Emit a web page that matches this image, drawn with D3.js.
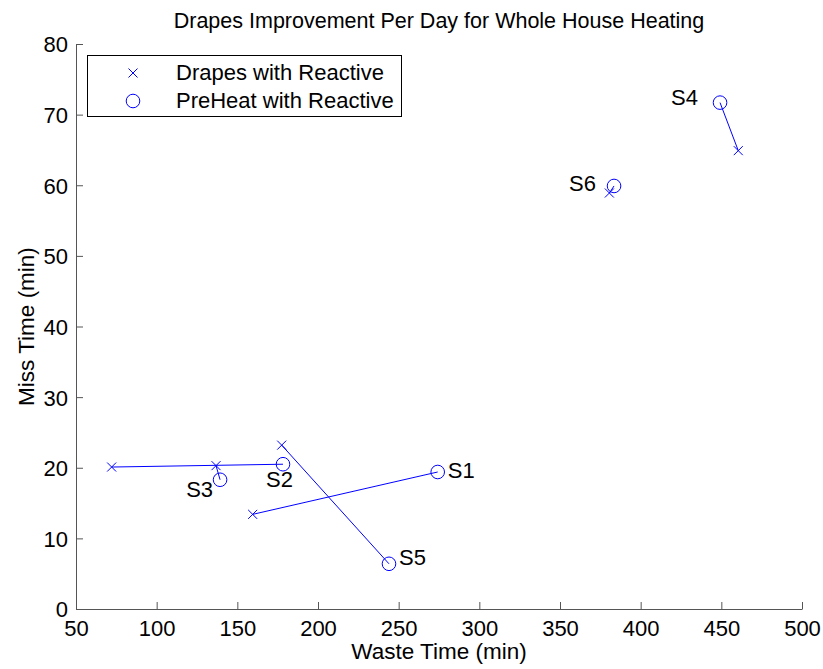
<!DOCTYPE html>
<html>
<head>
<meta charset="utf-8">
<script src="https://cdn.jsdelivr.net/npm/d3@7"></script>
<style>
  body { margin: 0; background: #fff; }
  svg { font-family: "Liberation Sans", Arial, sans-serif; }
</style>
</head>
<body>
<svg id="chart" width="823" height="669"></svg>
<script>
// Scenarios and the two strategies per scenario: waste time and miss time (minutes)
const scenarios = ["S1", "S2", "S3", "S4", "S5", "S6"];
const drapesWaste  = [159.5, 72.1, 136.8, 460.5, 177.5, 380.6];
const drapesMiss   = [13.4, 20.1, 20.3, 64.9, 23.2, 58.9];
const preheatWaste = [274.2, 178.3, 139.3, 449.2, 244.0, 383.5];
const preheatMiss  = [19.4, 20.5, 18.3, 71.7, 6.4, 59.9];

const xTicks = [50, 100, 150, 200, 250, 300, 350, 400, 450, 500];
const yTicks = [0, 10, 20, 30, 40, 50, 60, 70, 80];
const legendLabels = ["Drapes with Reactive", "PreHeat with Reactive"];

const color = "#0000ff";
const axisColor = "#555";
const fontSize = 22;
const svg = d3.select("#chart");
const m = { left: 76, right: 802, top: 44, bottom: 609 };

const x = d3.scaleLinear().domain([50, 500]).range([m.left, m.right]);
const y = d3.scaleLinear().domain([0, 80]).range([m.bottom, m.top]);

// Axes with inward ticks
const xAxis = d3.axisBottom(x).tickValues(xTicks).tickSizeInner(-7).tickSizeOuter(0);
const yAxis = d3.axisLeft(y).tickValues(yTicks).tickSizeInner(-7).tickSizeOuter(0);

const gx = svg.append("g").attr("transform", `translate(0,${m.bottom})`).call(xAxis);
const gy = svg.append("g").attr("transform", `translate(${m.left},0)`).call(yAxis);
[gx, gy].forEach(g => {
  g.attr("font-family", null).attr("font-size", null);
  g.selectAll("path, line").attr("stroke", axisColor);
  g.selectAll("text").attr("fill", "#000").style("font-size", fontSize + "px");
});
gx.selectAll("text").attr("y", 27).attr("dy", 0);
gy.selectAll("text").attr("x", -8).attr("dy", "0.36em");

// Title and axis labels
svg.append("text").attr("x", 439).attr("y", 28).attr("text-anchor", "middle")
  .style("font-size", "21.5px").text("Drapes Improvement Per Day for Whole House Heating");
svg.append("text").attr("x", 439).attr("y", 659).attr("text-anchor", "middle")
  .style("font-size", "22.5px").text("Waste Time (min)");
svg.append("text").attr("transform", "translate(34,326.5) rotate(-90)").attr("text-anchor", "middle")
  .style("font-size", "22.5px").text("Miss Time (min)");

const data = scenarios.map((s, i) => ({
  name: s, dx: drapesWaste[i], dy: drapesMiss[i], px: preheatWaste[i], py: preheatMiss[i]
}));

const plot = svg.append("g");

// Segment joining the two strategies of each scenario
plot.selectAll("line.pair").data(data).join("line").attr("class", "pair")
  .attr("x1", d => x(d.dx)).attr("y1", d => y(d.dy))
  .attr("x2", d => x(d.px)).attr("y2", d => y(d.py))
  .attr("stroke", color).attr("stroke-width", 1);

function crossPath(cx, cy, s) {
  return `M${cx - s},${cy - s}L${cx + s},${cy + s}M${cx - s},${cy + s}L${cx + s},${cy - s}`;
}
plot.selectAll("path.drapes").data(data).join("path").attr("class", "drapes")
  .attr("d", d => crossPath(x(d.dx), y(d.dy), 4.5))
  .attr("stroke", color).attr("stroke-width", 1).attr("fill", "none");
plot.selectAll("circle.pre").data(data).join("circle").attr("class", "pre")
  .attr("cx", d => x(d.px)).attr("cy", d => y(d.py)).attr("r", 6.8)
  .attr("fill", "none").attr("stroke", color).attr("stroke-width", 1);

// Scenario labels placed next to the PreHeat marker
const labelPlace = {
  S1: { dx: 10, dy: 6, anchor: "start" },
  S2: { dx: -17, dy: 23, anchor: "start" },
  S3: { dx: -7, dy: 17, anchor: "end" },
  S4: { dx: -22, dy: 2, anchor: "end" },
  S5: { dx: 10, dy: 1, anchor: "start" },
  S6: { dx: -18, dy: 5, anchor: "end" }
};
plot.selectAll("text.lab").data(data).join("text").attr("class", "lab")
  .attr("x", d => x(d.px) + labelPlace[d.name].dx)
  .attr("y", d => y(d.py) + labelPlace[d.name].dy)
  .attr("text-anchor", d => labelPlace[d.name].anchor)
  .style("font-size", fontSize + "px").text(d => d.name);

// Legend
const lg = svg.append("g");
lg.append("rect").attr("x", 87.5).attr("y", 55.5).attr("width", 314).attr("height", 61)
  .attr("fill", "#fff").attr("stroke", "#000").attr("stroke-width", 1);
lg.append("path").attr("d", crossPath(133, 73, 4.5))
  .attr("stroke", color).attr("stroke-width", 1).attr("fill", "none");
lg.append("circle").attr("cx", 133).attr("cy", 101).attr("r", 6.8)
  .attr("fill", "none").attr("stroke", color).attr("stroke-width", 1);
legendLabels.forEach((t, i) => {
  lg.append("text").attr("x", 176).attr("y", 80 + i * 28)
    .style("font-size", fontSize + "px").text(t);
});
</script>
</body>
</html>
